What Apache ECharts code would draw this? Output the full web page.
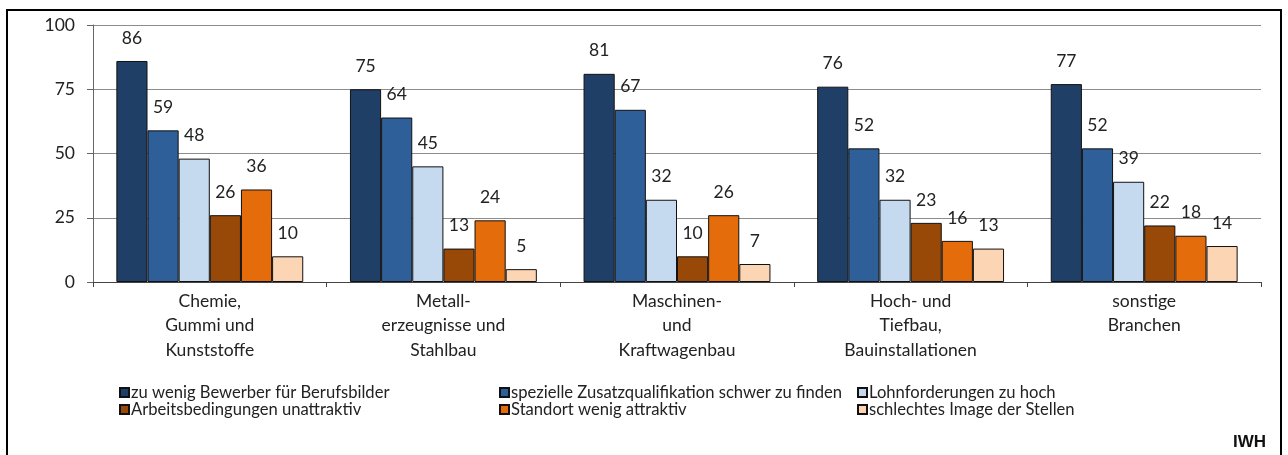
<!DOCTYPE html>
<html>
<head>
<meta charset="utf-8">
<script src="https://cdn.jsdelivr.net/npm/echarts@6/dist/echarts.min.js"></script>
<style>html,body{margin:0;padding:0;background:#fff}#c{width:1288px;height:455px}</style>
</head>
<body>
<div id="c"></div>
<script>
const categories = ["Chemie,\nGummi und\nKunststoffe", "Metall-\nerzeugnisse und\nStahlbau", "Maschinen-\nund\nKraftwagenbau", "Hoch- und\nTiefbau,\nBauinstallationen", "sonstige\nBranchen"];
const seriesNames = ["zu wenig Bewerber für Berufsbilder", "spezielle Zusatzqualifikation schwer zu finden", "Lohnforderungen zu hoch", "Arbeitsbedingungen unattraktiv", "Standort wenig attraktiv", "schlechtes Image der Stellen"];
const bewerber = [86, 75, 81, 76, 77];
const zusatzqual = [59, 64, 67, 52, 52];
const lohn = [48, 45, 32, 32, 39];
const arbeitsbed = [26, 13, 10, 23, 22];
const standort = [36, 24, 26, 16, 18];
const image = [10, 5, 7, 13, 14];
const yTicks = [0, 25, 50, 75, 100];
const colors = ["#203f66", "#2e5f98", "#c5d9ef", "#984807", "#e46c0a", "#fcd5b4"];

const FONT = "Lato";
const FS = 17.5;
const values = [bewerber, zusatzqual, lohn, arbeitsbed, standort, image];
const series = values.map((v, i) => ({
  name: seriesNames[i],
  type: "bar",
  data: v,
  barGap: "0%",
  barCategoryGap: "20%",
  itemStyle: { color: colors[i], borderColor: "#111", borderWidth: 1 },
  label: { show: true, position: "top", distance: 14, fontFamily: FONT, fontSize: FS, color: "#222" },
  animation: false
}));

function legendCol(left, names) {
  return {
    orient: "vertical", left: left, top: 379, itemGap: 0,
    itemWidth: 9, itemHeight: 9, icon: "rect",
    data: names,
    textStyle: { fontFamily: FONT, fontSize: 16.6, color: "#222", lineHeight: 17, padding: [0, 0, 0, -3] },
    selectedMode: false
  };
}

const chart = echarts.init(document.getElementById("c"), null, { renderer: "canvas" });
chart.setOption({
  animation: false,
  backgroundColor: "#fff",
  grid: { left: 93, right: 27, top: 25, bottom: 173, containLabel: false },
  legend: [
    legendCol(114, [seriesNames[0], seriesNames[3]]),
    legendCol(494, [seriesNames[1], seriesNames[4]]),
    legendCol(852, [seriesNames[2], seriesNames[5]])
  ],
  xAxis: {
    type: "category", data: categories,
    axisLine: { lineStyle: { color: "#444", width: 1 } },
    axisTick: { show: true, alignWithLabel: false, length: 5, lineStyle: { color: "#444" } },
    axisLabel: { fontFamily: FONT, fontSize: FS, color: "#222", lineHeight: 24.5, margin: 7, interval: 0 }
  },
  yAxis: {
    type: "value", min: 0, max: 100, interval: 25,
    axisLine: { show: true, lineStyle: { color: "#666", width: 1 } },
    axisTick: { show: true, length: 6, lineStyle: { color: "#666" } },
    axisLabel: { fontFamily: FONT, fontSize: FS, color: "#222", margin: 18,
      formatter: v => yTicks.includes(v) ? String(v) : "" },
    splitLine: { lineStyle: { color: "#8c8c8c", width: 1 } }
  },
  series: series,
  graphic: [
    { type: "rect", shape: { x: 7, y: 10, width: 1274, height: 470 }, style: { fill: "none", stroke: "#000", lineWidth: 2 }, silent: true },
    { type: "text", right: 22, top: 434, style: { text: "IWH", font: "bold 17px 'Liberation Sans Narrow', 'Liberation Sans', sans-serif", fill: "#111" } }
  ]
});
</script>
</body>
</html>
